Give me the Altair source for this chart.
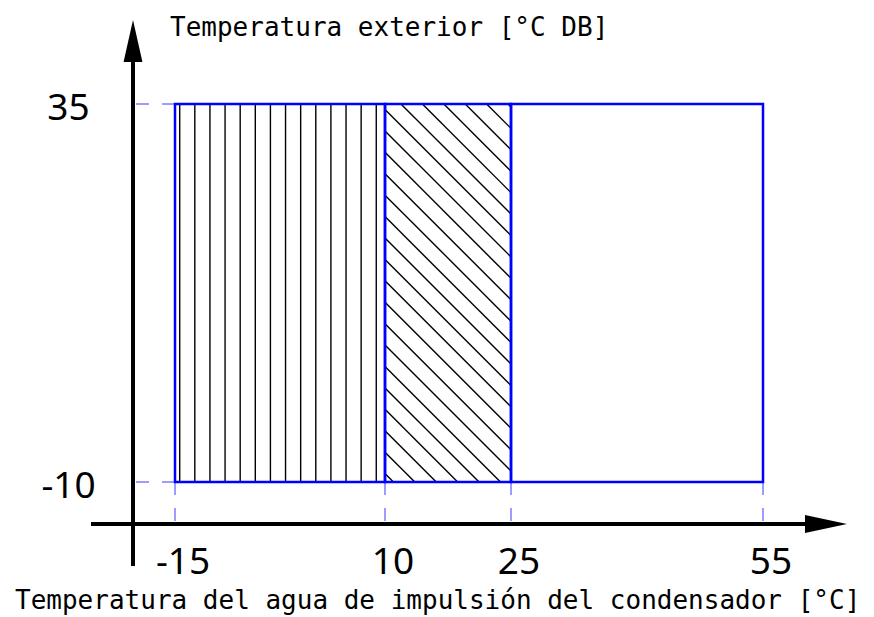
import altair as alt
import pandas as pd

# ---- data ----
x_ticks = [-15, 10, 25, 55]
y_ticks = [-10, 35]
zone_x0 = [-15, 10, 25]
zone_x1 = [10, 25, 55]
zone_y0 = -10
zone_y1 = 35
# hatching: vertical lines in zone 1, "\" diagonals in zone 2
vhatch_start, vhatch_step, vhatch_n = -14.44, 1.80, 14
dhatch_start, dhatch_step, dhatch_n = 1.0, 2.55, 24

# axis geometry (data units)
axis_x_at = -20      # vertical axis position
axis_y_at = -15      # horizontal axis position
axis_x_min, axis_x_tip = -25, 65
axis_y_min, axis_y_tip = -20, 45
arrow_len = 5

x_title = "Temperatura del agua de impulsión del condensador [°C]"
y_title = "Temperatura exterior [°C DB]"

W, H = 850, 609
xs = alt.Scale(domain=[-34.881, -34.881 + W / 8.4], nice=False, zero=False)
ys = alt.Scale(domain=[46.43 - H / 8.4, 46.43], nice=False, zero=False)

def X(f, **kw):
    return alt.X(f, type="quantitative", scale=xs, axis=None, **kw)

def Y(f, **kw):
    return alt.Y(f, type="quantitative", scale=ys, axis=None, **kw)

# hatch segments
vh = pd.DataFrame({
    "x": [vhatch_start + k * vhatch_step for k in range(vhatch_n)],
})
vh["x2"] = vh["x"]
vh["y"] = zone_y0
vh["y2"] = zone_y1

xa, xb = zone_x0[1], zone_x1[1]
rows = []
for k in range(dhatch_n):
    c = dhatch_start + k * dhatch_step
    x_lo = max(xa, c - zone_y1)
    x_hi = min(xb, c - zone_y0)
    if x_hi > x_lo:
        rows.append({"x": x_lo, "y": c - x_lo, "x2": x_hi, "y2": c - x_hi})
dh = pd.DataFrame(rows)

zones = pd.DataFrame({"x": zone_x0, "x2": zone_x1, "y": zone_y0, "y2": zone_y1})

vdash = pd.DataFrame({"x": x_ticks, "y": zone_y0, "y2": axis_y_at})
hdash = pd.DataFrame({"y": y_ticks, "x": zone_x0[0], "x2": axis_x_at})

hatch_v = alt.Chart(vh).mark_rule(color="black", strokeWidth=1.4).encode(
    x=X("x"), x2="x2", y=Y("y"), y2="y2")
hatch_d = alt.Chart(dh).mark_rule(color="black", strokeWidth=1.4).encode(
    x=X("x"), x2="x2", y=Y("y"), y2="y2")

rects = alt.Chart(zones).mark_rect(fillOpacity=0, fill="white", stroke="#0000ff",
                                   strokeWidth=2.5).encode(
    x=X("x"), x2="x2", y=Y("y"), y2="y2")

dash_v = alt.Chart(vdash).mark_rule(color="#3a3aff", strokeWidth=1, strokeDash=[13, 13]).encode(
    x=X("x"), y=Y("y"), y2="y2")
dash_h = alt.Chart(hdash).mark_rule(color="#3a3aff", strokeWidth=1, strokeDash=[13, 13]).encode(
    x=X("x"), x2="x2", y=Y("y"))

axes_df = pd.DataFrame({
    "x": [axis_x_min, axis_x_at],
    "x2": [axis_x_tip - arrow_len + 1, axis_x_at],
    "y": [axis_y_at, axis_y_min],
    "y2": [axis_y_at, axis_y_tip - arrow_len + 1],
})
axes = alt.Chart(axes_df).mark_rule(color="black", strokeWidth=4).encode(
    x=X("x"), x2="x2", y=Y("y"), y2="y2")

heads = pd.DataFrame({
    "x": [axis_x_tip - arrow_len / 2, axis_x_at],
    "y": [axis_y_at, axis_y_tip - arrow_len / 2],
    "shape": ["M1,0L-1,-0.43L-1,0.43Z", "M0,-1L0.45,1L-0.45,1Z"],
})
arrow = alt.Chart(heads).mark_point(filled=True, color="black", opacity=1,
                                    strokeWidth=0, size=1764).encode(
    x=X("x"), y=Y("y"), shape=alt.Shape("shape:N", scale=None, legend=None))

font_num = "Noto Sans"
font_mono = "DejaVu Sans Mono"

xlab_df = pd.DataFrame({"v": x_ticks, "t": [str(v) for v in x_ticks]})
ylab_df = pd.DataFrame({"v": y_ticks, "t": [str(v) for v in y_ticks]})

xlab = alt.Chart(xlab_df).mark_text(
    font=font_num, fontSize=37, align="center", baseline="alphabetic", dx=8, color="black"
).encode(x=X("v"), y=alt.value(566), text="t:N")

ylab = alt.Chart(ylab_df).mark_text(
    font=font_num, fontSize=37, align="center", baseline="alphabetic", dy=16, color="black"
).encode(y=Y("v"), x=alt.value(60.5), text="t:N")

xt = alt.Chart(pd.DataFrame({"t": [x_title]})).mark_text(
    font=font_mono, fontSize=26, align="left", baseline="alphabetic", color="black"
).encode(x=alt.value(7), y=alt.value(601), text="t:N")

yt = alt.Chart(pd.DataFrame({"t": [y_title]})).mark_text(
    font=font_mono, fontSize=26, align="left", baseline="alphabetic", color="black"
).encode(x=alt.value(162), y=alt.value(28), text="t:N")

chart = alt.layer(
    hatch_v, hatch_d, dash_v, dash_h, rects, axes, arrow, xlab, ylab, xt, yt
).properties(
    width=W, height=H,
    autosize=alt.AutoSizeParams(type="none"),
    padding=0,
    background="white",
).configure(view=alt.ViewConfig(stroke=None))

chart.save("out.html", embed_options={"renderer": "svg", "actions": False})
